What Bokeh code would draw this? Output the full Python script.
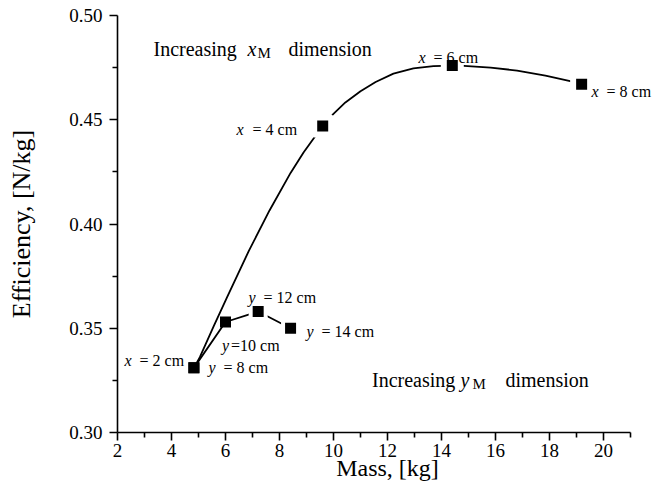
from bokeh.plotting import figure
from bokeh.models import Range1d, FixedTicker, PrintfTickFormatter, Label
from bokeh.embed import file_html
from bokeh.resources import INLINE

# ---------------- data ----------------
# x_M series (varying x dimension)
x_mass = [4.83, 9.60, 14.40, 19.19]
x_eff = [0.331, 0.447, 0.476, 0.467]
x_labels = ["= 2 cm", "= 4 cm", "= 6 cm", "= 8 cm"]

# y_M series (varying y dimension)
y_mass = [4.83, 6.00, 7.21, 8.41]
y_eff = [0.331, 0.353, 0.358, 0.350]
y_labels = ["= 8 cm", "=10 cm", "= 12 cm", "= 14 cm"]

# smooth curve through the x_M series
curve_mass = [4.83, 5.05, 5.56, 6.06, 6.86, 7.63, 8.41, 8.89, 9.33, 9.60,
              9.95, 10.44, 11.00, 11.56, 12.22, 12.96, 13.70, 14.40,
              14.83, 15.82, 16.80, 17.85, 18.89, 19.19]
curve_eff = [0.331, 0.3361, 0.3509, 0.3649, 0.3870, 0.4065, 0.4245, 0.4343, 0.4422, 0.4469,
             0.4522, 0.4583, 0.4637, 0.4681, 0.4721, 0.4746, 0.4757, 0.4760,
             0.4758, 0.4750, 0.4736, 0.4712, 0.4682, 0.4670]

x_ticks = [2, 4, 6, 8, 10, 12, 14, 16, 18, 20]
x_minor = [3, 5, 7, 9, 11, 13, 15, 17, 19, 21]
y_ticks = [0.30, 0.35, 0.40, 0.45, 0.50]
y_minor = [0.325, 0.375, 0.425, 0.475]

# ---------------- layout ----------------
W, H = 657, 490
LEFT, RIGHT, TOP, BOTTOM = 117, 0, 15, 58
X0, X1, Y0, Y1 = 2, 22, 0.30, 0.50   # view extends to 22, axis drawn to 21
AXIS_END = 21
FW = W - LEFT - RIGHT
FH = H - TOP - BOTTOM

def px2x(px):
    return X0 + (px - LEFT) * (X1 - X0) / FW

def py2y(py):
    return Y0 + (H - BOTTOM - py) * (Y1 - Y0) / FH

FONT = "Liberation Serif"

p = figure(width=W, height=H, x_range=Range1d(X0, X1), y_range=Range1d(Y0, Y1),
           output_backend="svg", toolbar_location=None,
           min_border_left=LEFT, min_border_right=RIGHT,
           min_border_top=TOP, min_border_bottom=BOTTOM)
p.outline_line_color = None
p.grid.visible = False
p.background_fill_color = "white"
p.border_fill_color = "white"

for ax in (p.xaxis[0], p.yaxis[0]):
    ax.axis_line_width = 1.6
    ax.axis_line_color = "black"
    ax.major_tick_line_width = 1.6
    ax.minor_tick_line_width = 1.6
    ax.major_tick_line_color = "black"
    ax.minor_tick_line_color = "black"
    ax.major_tick_in = 0
    ax.minor_tick_in = 0
    ax.major_tick_out = 8
    ax.minor_tick_out = 5
    ax.major_label_text_font = FONT
    ax.major_label_text_font_size = "19px"
    ax.major_label_text_color = "black"
    ax.axis_label_text_font = FONT
    ax.axis_label_text_font_style = "normal"
    ax.axis_label_text_color = "black"

p.xaxis.ticker = FixedTicker(ticks=x_ticks, minor_ticks=x_minor)
p.xaxis.formatter = PrintfTickFormatter(format="%d")
p.xaxis.bounds = (X0, AXIS_END)
p.xaxis.axis_label = "Mass, [kg]"
p.xaxis.axis_label_text_font_size = "24px"
p.xaxis.major_label_standoff = 3
p.xaxis.axis_label_standoff = -5

p.yaxis.ticker = FixedTicker(ticks=y_ticks, minor_ticks=y_minor)
p.yaxis.formatter = PrintfTickFormatter(format="%.2f")
p.yaxis.axis_label = "Efficiency, [N/kg]"
p.yaxis.axis_label_text_font_size = "26px"
p.yaxis.major_label_standoff = 7
p.yaxis.axis_label_standoff = 30

# ---------------- marks ----------------
p.line(curve_mass, curve_eff, line_color="black", line_width=1.8, line_join="round")
p.line(y_mass, y_eff, line_color="black", line_width=1.8)

# white halos (line gaps) around the markers, except the shared start point
p.scatter(x_mass[1:], x_eff[1:], marker="square", size=18, fill_color="white",
          line_color="white", line_width=5)
p.scatter(y_mass[2:], y_eff[2:], marker="square", size=15, fill_color="white",
          line_color="white", line_width=4)
p.scatter(x_mass, x_eff, marker="square", size=11, fill_color="black", line_color=None)
p.scatter(y_mass, y_eff, marker="square", size=11, fill_color="black", line_color=None)

# ---------------- texts ----------------
def txt(px, py, text, size, italic=False, align="left"):
    p.add_layout(Label(x=px2x(px), y=py2y(py), text=text, text_font=FONT,
                       text_font_size=f"{size}px",
                       text_font_style="italic" if italic else "normal",
                       text_align=align, text_baseline="alphabetic",
                       text_color="black"))

# point labels: (left edge of variable px, baseline px, offset of rest)
x_label_pos = [(124, 359.5, 15), (236, 129, 16), (418, 56.5, 15), (591, 90.5, 15)]
y_label_pos = [(208, 367, 15), (221.5, 345, 9), (248, 297, 15), (306, 331, 15)]
for (lx, by, off), lab in zip(x_label_pos, x_labels):
    txt(lx, by, "x", 16, italic=True)
    txt(lx + off, by, lab, 16)
for (lx, by, off), lab in zip(y_label_pos, y_labels):
    txt(lx, by, "y", 16, italic=True)
    txt(lx + off, by, lab, 16)

# region annotations
txt(153, 48.3, "Increasing", 20)
txt(247, 48.3, "x", 20, italic=True)
txt(257, 52.5, "M", 15)
txt(288, 48.3, "dimension", 20)

txt(371.5, 379.3, "Increasing", 20)
txt(460, 379.3, "y", 20, italic=True)
txt(472, 383.5, "M", 15)
txt(505, 379.3, "dimension", 20)

open("out.html", "w").write(file_html(p, INLINE))
